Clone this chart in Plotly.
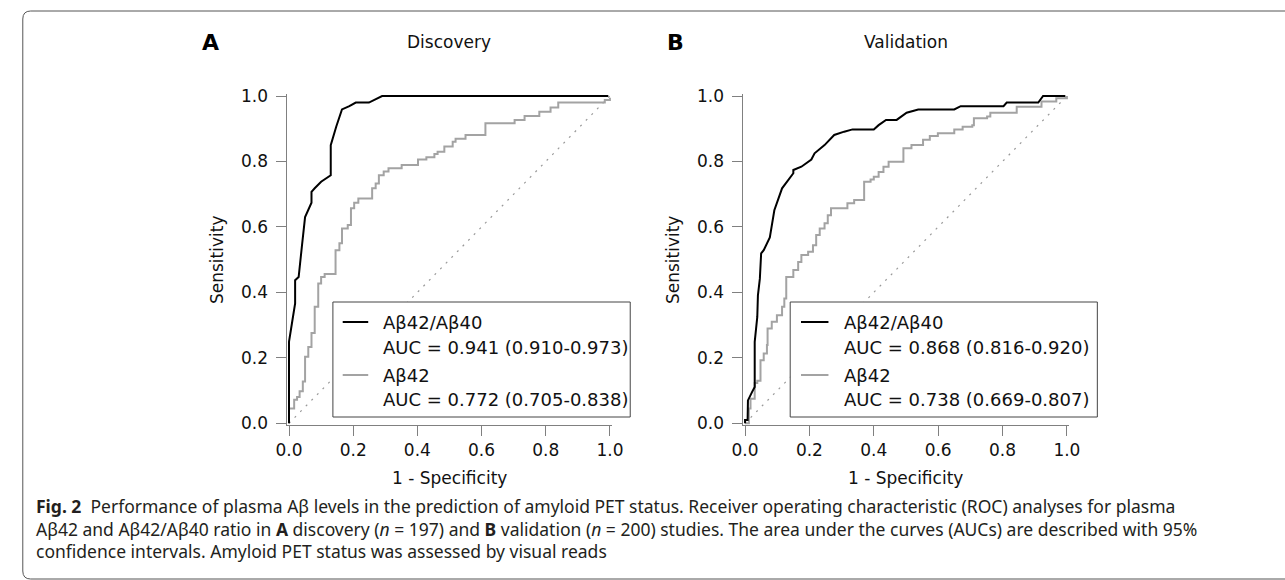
import plotly.graph_objects as go

W, H = 1285, 580

# ---------------- data ----------------
# Panel A - Discovery
A_ratio_fpr = [0, 0, 0.009, 0.019, 0.019, 0.03, 0.04, 0.05, 0.07, 0.07, 0.08, 0.10, 0.13, 0.13,
               0.147, 0.165, 0.188, 0.208, 0.249, 0.29, 0.995]
A_ratio_tpr = [0, 0.25, 0.305, 0.366, 0.437, 0.447, 0.54, 0.63, 0.674, 0.707, 0.718, 0.738, 0.758, 0.85,
               0.906, 0.959, 0.969, 0.98, 0.98, 1.0, 1.0]

A_ab42_fpr = [0, 0, 0.016, 0.025, 0.033, 0.043, 0.05, 0.06, 0.07, 0.08, 0.091, 0.10, 0.111, 0.145,
              0.157, 0.165, 0.183, 0.193, 0.203, 0.216, 0.259, 0.27, 0.28, 0.295, 0.31, 0.351, 0.402,
              0.428, 0.453, 0.463, 0.484, 0.51, 0.519, 0.55, 0.612, 0.703, 0.734, 0.78, 0.815, 0.839,
              0.984, 1.0]
A_ab42_tpr = [0, 0.045, 0.072, 0.08, 0.098, 0.128, 0.203, 0.233, 0.276, 0.356, 0.427, 0.447, 0.456, 0.529,
              0.55, 0.595, 0.606, 0.657, 0.674, 0.687, 0.718, 0.733, 0.758, 0.769, 0.779, 0.789, 0.806,
              0.813, 0.823, 0.83, 0.846, 0.86, 0.869, 0.881, 0.917, 0.927, 0.939, 0.952, 0.965, 0.98,
              0.988, 0.995]

# Panel B - Validation
B_ratio_fpr = [0, 0, 0.008, 0.009, 0.022, 0.03, 0.03, 0.038, 0.04, 0.046, 0.05, 0.058, 0.077, 0.091,
               0.115, 0.15, 0.15, 0.175, 0.206, 0.216, 0.247, 0.277, 0.308, 0.334, 0.40, 0.415, 0.438,
               0.471, 0.502, 0.538, 0.65, 0.67, 0.803, 0.813, 0.911, 0.926, 0.995]
B_ratio_tpr = [0, 0.01, 0.01, 0.07, 0.096, 0.111, 0.249, 0.325, 0.391, 0.442, 0.519, 0.529, 0.568, 0.651,
               0.718, 0.764, 0.774, 0.784, 0.806, 0.825, 0.85, 0.881, 0.891, 0.898, 0.898, 0.911, 0.927,
               0.927, 0.949, 0.959, 0.959, 0.969, 0.969, 0.98, 0.98, 1.0, 1.0]

B_ab42_fpr = [0, 0.012, 0.017, 0.03, 0.038, 0.048, 0.058, 0.068, 0.07, 0.083, 0.099, 0.115, 0.122, 0.128,
              0.15, 0.165, 0.175, 0.196, 0.211, 0.221, 0.232, 0.247, 0.257, 0.267, 0.318, 0.339, 0.37,
              0.39, 0.40, 0.415, 0.43, 0.446, 0.492, 0.517, 0.553, 0.574, 0.599, 0.65, 0.676, 0.706,
              0.711, 0.752, 0.762, 0.844, 0.921, 0.967, 1.0]
B_ab42_tpr = [0, 0.045, 0.075, 0.123, 0.13, 0.193, 0.213, 0.239, 0.29, 0.31, 0.33, 0.356, 0.381, 0.447,
              0.468, 0.493, 0.514, 0.524, 0.544, 0.575, 0.595, 0.611, 0.636, 0.657, 0.672, 0.682, 0.738,
              0.745, 0.753, 0.768, 0.784, 0.799, 0.84, 0.85, 0.866, 0.878, 0.886, 0.898, 0.906, 0.911,
              0.932, 0.937, 0.949, 0.967, 0.983, 0.993, 1.0]

diag = [0, 1]
tick_vals = [0, 0.2, 0.4, 0.6, 0.8, 1.0]
tick_text = ["0.0", "0.2", "0.4", "0.6", "0.8", "1.0"]

panel_letters = ["A", "B"]
panel_titles = ["Discovery", "Validation"]
legend_names = ["A\u03b242/A\u03b240", "A\u03b242"]
auc_text = [["AUC = 0.941 (0.910-0.973)", "AUC = 0.772 (0.705-0.838)"],
            ["AUC = 0.868 (0.816-0.920)", "AUC = 0.738 (0.669-0.807)"]]
x_title = "1 - Specificity"
y_title = "Sensitivity"
caption_lines = [
    "<b>Fig. 2</b>  Performance of plasma A\u03b2 levels in the prediction of amyloid PET status. "
    "Receiver operating characteristic (ROC) analyses for plasma",
    "A\u03b242 and A\u03b242/A\u03b240 ratio in <b>A</b> discovery (<i>n</i> = 197) and "
    "<b>B</b> validation (<i>n</i> = 200) studies. The area under the curves (AUCs) are described with 95%",
    "confidence intervals. Amyloid PET status was assessed by visual reads",
]

# ---------------- styling / layout helpers ----------------
FONT = "DejaVu Sans"
CAP_FONT = "Noto Sans"
BLACK = "#000000"
GREY = "#a3a3a3"
AXC = "#808080"
TXT = "#111111"


def px(x):
    return x / W


def py(y):
    return 1 - y / H


PAD = 0.005
x0_px = [282.3, 747.0]
x1_px = [609.3, 1075.0]
y0_px, y1_px = 423.3, 96.0


def dom_x(i):
    s = x1_px[i] - x0_px[i]
    return [px(x0_px[i] - PAD * s), px(x1_px[i] + PAD * s)]


sy = y0_px - y1_px
dom_y = [py(y0_px + PAD * sy), py(y1_px - PAD * sy)]

fig = go.Figure()

panels = [
    (A_ratio_fpr, A_ratio_tpr, A_ab42_fpr, A_ab42_tpr),
    (B_ratio_fpr, B_ratio_tpr, B_ab42_fpr, B_ab42_tpr),
]

for i, (rf, rt, gf, gt) in enumerate(panels):
    xa = "x" if i == 0 else "x2"
    ya = "y" if i == 0 else "y2"
    fig.add_trace(go.Scatter(x=diag, y=diag, mode="lines", xaxis=xa, yaxis=ya,
                             line=dict(color="#999999", width=1.2, dash="2px,6px"), showlegend=False,
                             hoverinfo="skip"))
    fig.add_trace(go.Scatter(x=gf, y=gt, mode="lines", xaxis=xa, yaxis=ya,
                             line=dict(color=GREY, width=2, shape="hv"), showlegend=False))
    fig.add_trace(go.Scatter(x=rf, y=rt, mode="lines", xaxis=xa, yaxis=ya,
                             line=dict(color=BLACK, width=2), showlegend=False))

axis_common = dict(range=[-PAD, 1 + PAD], tickvals=tick_vals, ticktext=tick_text, ticks="outside",
                   ticklen=10, tickwidth=1, tickcolor=AXC, showline=True, linecolor=AXC, linewidth=1,
                   showgrid=False, zeroline=False, fixedrange=True,
                   tickfont=dict(family=FONT, size=17, color=TXT))

fig.update_layout(
    width=W, height=H, margin=dict(l=0, r=0, t=0, b=0, pad=0),
    paper_bgcolor="white", plot_bgcolor="white", showlegend=False,
    xaxis=dict(domain=dom_x(0), anchor="y", **axis_common),
    yaxis=dict(domain=dom_y, anchor="x", showticklabels=False, **axis_common),
    xaxis2=dict(domain=dom_x(1), anchor="y2", **axis_common),
    yaxis2=dict(domain=dom_y, anchor="x2", showticklabels=False, **axis_common),
)

shapes = []
annotations = []

# outer rounded frame
r = 8
fx0, fy0, fx1, fy1 = 11, 11, 1300, 579
path = (f"M {px(fx0)},{py(fy0 + r)} "
        f"Q {px(fx0)},{py(fy0)} {px(fx0 + r)},{py(fy0)} "
        f"L {px(fx1)},{py(fy0)} L {px(fx1)},{py(fy1)} "
        f"L {px(fx0 + r)},{py(fy1)} Q {px(fx0)},{py(fy1)} {px(fx0)},{py(fy1 - r)} Z")
shapes.append(dict(type="path", xref="paper", yref="paper", path=path,
                   line=dict(color="#555555", width=1), fillcolor="rgba(0,0,0,0)", layer="below"))

legend_box = [(327, 630), (793, 1106)]
legend_sample = [(337, 363), (804, 832)]
legend_text_x = [376, 846]
for i in range(2):
    ya = "y" if i == 0 else "y2"
    lx0, lx1 = legend_box[i]
    shapes.append(dict(type="rect", xref="paper", yref="paper",
                       x0=px(lx0), x1=px(lx1), y0=py(417), y1=py(302),
                       line=dict(color="#444444", width=1), fillcolor="white", layer="above"))
    sx0, sx1 = legend_sample[i]
    shapes.append(dict(type="line", xref="paper", yref="paper", x0=px(sx0), x1=px(sx1),
                       y0=py(322), y1=py(322), line=dict(color=BLACK, width=2), layer="above"))
    shapes.append(dict(type="line", xref="paper", yref="paper", x0=px(sx0), x1=px(sx1),
                       y0=py(375), y1=py(375), line=dict(color=GREY, width=2), layer="above"))
    for text, yy in [(legend_names[0], 322), (auc_text[i][0], 347),
                     (legend_names[1], 375), (auc_text[i][1], 399)]:
        annotations.append(dict(text=text, xref="paper", yref="paper", x=px(legend_text_x[i]), y=py(yy),
                                xanchor="left", yanchor="middle", showarrow=False,
                                font=dict(family=FONT, size=18, color=TXT)))
    # y tick labels placed through the y axis scale
    for tv, tt in zip(tick_vals, tick_text):
        annotations.append(dict(text=tt, xref="paper", yref=ya, x=px(x0_px[i] - 19), y=tv,
                                xanchor="right", yanchor="middle", showarrow=False,
                                font=dict(family=FONT, size=17, color=TXT)))
    # titles and labels
    cx = (x0_px[i] + x1_px[i]) / 2
    annotations.append(dict(text=panel_titles[i], xref="paper", yref="paper", x=px(cx), y=py(42),
                            xanchor="center", yanchor="middle", showarrow=False,
                            font=dict(family=FONT, size=17, color=TXT)))
    annotations.append(dict(text="<b>" + panel_letters[i] + "</b>", xref="paper", yref="paper",
                            x=px([202, 676][i]), y=py(42), xanchor="center", yanchor="middle",
                            showarrow=False, font=dict(family=FONT, size=22, color=BLACK)))
    annotations.append(dict(text=x_title, xref="paper", yref="paper", x=px(cx), y=py(478),
                            xanchor="center", yanchor="middle", showarrow=False,
                            font=dict(family=FONT, size=17, color=TXT)))
    annotations.append(dict(text=y_title, xref="paper", yref="paper", x=px(x0_px[i] - 74),
                            y=py((y0_px + y1_px) / 2), xanchor="center", yanchor="middle",
                            textangle=-90, showarrow=False,
                            font=dict(family=FONT, size=17, color=TXT)))

for k, line in enumerate(caption_lines):
    annotations.append(dict(text=line, xref="paper", yref="paper", x=px(22), y=py(506 + 22.5 * k),
                            xanchor="left", yanchor="middle", showarrow=False, align="left",
                            font=dict(family=CAP_FONT, size=17.5, color="#231f20")))

fig.update_layout(shapes=shapes, annotations=annotations)
fig.write_html("out.html",
               config={"displayModeBar": False, "staticPlot": True},
               post_script="document.body.style.margin='0';document.body.style.overflow='hidden';")
